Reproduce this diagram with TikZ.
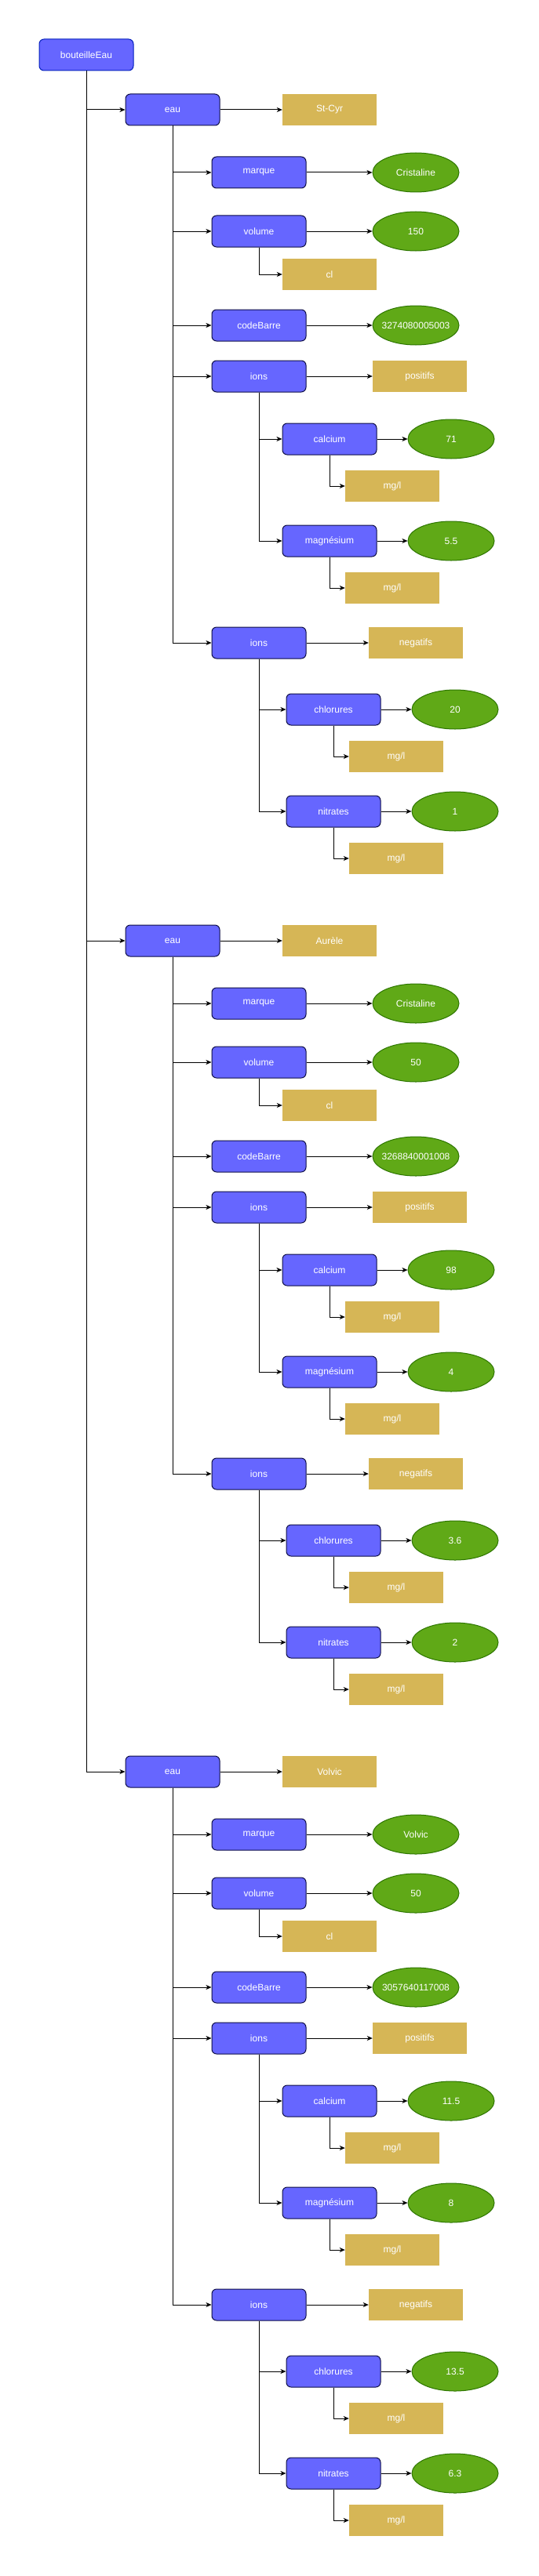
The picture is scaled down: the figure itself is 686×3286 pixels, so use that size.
\documentclass[tikz,border=0pt]{standalone}
\usepackage{fontspec}
\setmainfont{Liberation Sans}
\usepackage{xcolor}
\usetikzlibrary{arrows.meta,shapes.geometric}

\definecolor{boxblue}{HTML}{6666FF}
\definecolor{boxline}{HTML}{0D0D45}
\definecolor{rootline}{HTML}{001DBC}
\definecolor{unitgold}{HTML}{D6B656}
\definecolor{valgreen}{HTML}{60A917}
\definecolor{valline}{HTML}{2D7600}

\begin{document}
\begin{tikzpicture}[x=1pt, y=-1pt, font=\fontsize{12}{14}\selectfont,
    attrbox/.style={draw=boxline, fill=boxblue, text=white, line width=1pt,
      rounded corners=6pt, minimum width=120pt, minimum height=40pt, inner sep=0pt},
    rootbox/.style={attrbox, draw=rootline},
    unitbox/.style={fill=unitgold, text=white, minimum width=120pt,
      minimum height=40pt, inner sep=0pt},
    valnode/.style={ellipse, draw=valline, fill=valgreen, text=white, line width=1pt,
      minimum width=110pt, minimum height=50pt, inner xsep=-12pt, inner ysep=0pt},
    link/.style={-{Stealth[length=7pt,width=6pt,inset=2pt]}, line width=1pt}]
    \useasboundingbox (0,0) rectangle (686,3286);

    \node [rootbox] (bouteille) at (110,70) {bouteilleEau};

    %% one block per bottle, 1060 apart
    \foreach \gy/\brand/\mrq/\vol/\ean/\caV/\mgV/\clV/\noV [count=\i] in
      {0/St-Cyr/Cristaline/150/3274080005003/71/5.5/20/1,
       1060/Aurèle/Cristaline/50/3268840001008/98/4/3.6/2,
       2120/Volvic/Volvic/50/3057640117008/11.5/8/13.5/6.3} {
      \node [attrbox] (eau\i) at (220,140+\gy) {eau};
      \node [unitbox] (brand\i) at (420,140+\gy) {\brand};
      \draw [link] (bouteille.south) |- (eau\i.west);
      \draw [link] (eau\i.east) -- (brand\i.west);

      \node [attrbox] (marque\i) at (330,220+\gy) {marque};
      \node [valnode] (marqueV\i) at (530,220+\gy) {\mrq};
      \node [attrbox] (volume\i) at (330,295+\gy) {volume};
      \node [valnode] (volumeV\i) at (530,295+\gy) {\vol};
      \node [unitbox] (cl\i) at (420,350+\gy) {cl};
      \node [attrbox] (code\i) at (330,415+\gy) {codeBarre};
      \node [valnode] (codeV\i) at (530,415+\gy) {\ean};
      \node [attrbox] (ionsP\i) at (330,480+\gy) {ions};
      \node [unitbox] (posit\i) at (535,480+\gy) {positifs};
      \node [attrbox] (ionsN\i) at (330,820+\gy) {ions};
      \node [unitbox] (negat\i) at (530,820+\gy) {negatifs};
      \foreach \n in {marque,volume,code,ionsP,ionsN}
        \draw [link] (eau\i.south) |- (\n\i.west);
      \draw [link] (marque\i.east) -- (marqueV\i.west);
      \draw [link] (volume\i.east) -- (volumeV\i.west);
      \draw [link] (volume\i.south) |- (cl\i.west);
      \draw [link] (code\i.east) -- (codeV\i.west);
      \draw [link] (ionsP\i.east) -- (posit\i.west);
      \draw [link] (ionsN\i.east) -- (negat\i.west);

      %% positive ions
      \node [attrbox] (calcium\i) at (420,560+\gy) {calcium};
      \node [valnode] (calciumV\i) at (575,560+\gy) {\caV};
      \node [unitbox] (calciumU\i) at (500,620+\gy) {mg/l};
      \node [attrbox] (magnesium\i) at (420,690+\gy) {magnésium};
      \node [valnode] (magnesiumV\i) at (575,690+\gy) {\mgV};
      \node [unitbox] (magnesiumU\i) at (500,750+\gy) {mg/l};
      %% negative ions
      \node [attrbox] (chlorures\i) at (425,905+\gy) {chlorures};
      \node [valnode] (chloruresV\i) at (580,905+\gy) {\clV};
      \node [unitbox] (chloruresU\i) at (505,965+\gy) {mg/l};
      \node [attrbox] (nitrates\i) at (425,1035+\gy) {nitrates};
      \node [valnode] (nitratesV\i) at (580,1035+\gy) {\noV};
      \node [unitbox] (nitratesU\i) at (505,1095+\gy) {mg/l};
      \foreach \n in {calcium,magnesium}
        \draw [link] (ionsP\i.south) |- (\n\i.west);
      \foreach \n in {chlorures,nitrates}
        \draw [link] (ionsN\i.south) |- (\n\i.west);
      \foreach \n in {calcium,magnesium,chlorures,nitrates} {
        \draw [link] (\n\i.east) -- (\n V\i.west);
        \draw [link] (\n\i.south) |- (\n U\i.west);
      }
    }
  \end{tikzpicture}
\end{document}
